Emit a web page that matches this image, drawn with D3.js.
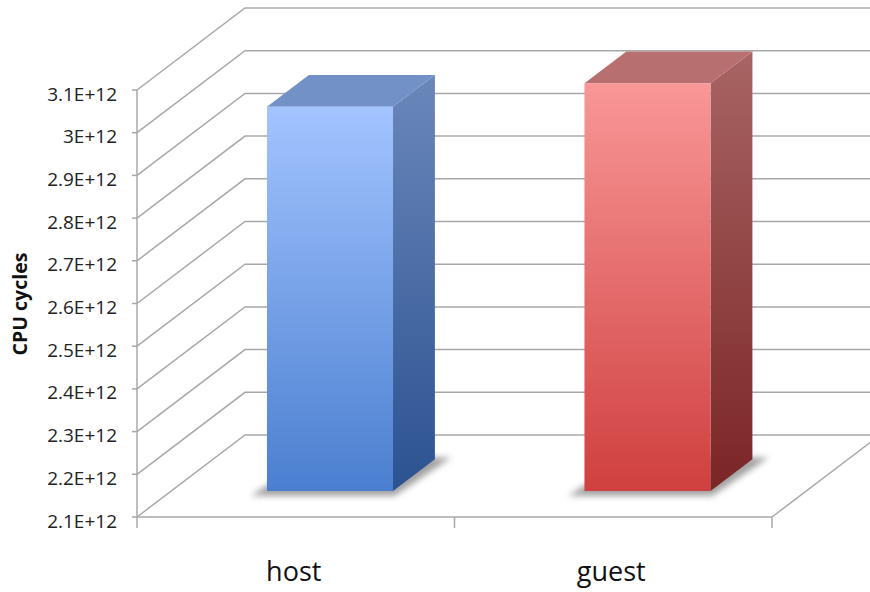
<!DOCTYPE html>
<html><head><meta charset="utf-8">
<script src="https://cdn.jsdelivr.net/npm/d3@7"></script>
<style>body{margin:0;background:#fff}svg{display:block}</style>
</head><body>
<svg id="c" width="870" height="592"></svg>
<script>
// ---- data ----
const categories = ["host", "guest"];
const values = [3.0e12, 3.055e12];
const yTicks = [2.1e12, 2.2e12, 2.3e12, 2.4e12, 2.5e12, 2.6e12, 2.7e12, 2.8e12, 2.9e12, 3.0e12, 3.1e12];
const yTickLabels = ["2.1E+12", "2.2E+12", "2.3E+12", "2.4E+12", "2.5E+12", "2.6E+12", "2.7E+12", "2.8E+12", "2.9E+12", "3E+12", "3.1E+12"];
const yTitle = "CPU cycles";
const barColors = [
  {front: ["#a3c4ff", "#4a7fd0"], side: ["#6a87ba", "#2c5291"], top: "#7291c7"},
  {front: ["#f99797", "#cf403f"], side: ["#a86464", "#7b2525"], top: "#b86f70"}
];

// ---- layout ----
const svg = d3.select("#c");
const X0 = 137, X1 = 772, YB = 517, YT = 90;
const DX = 108, DY = -82;        // full depth offset
const D0 = 0.317, D1 = 0.705;    // bar depth span
const barFrac = 0.397;
const gridColor = "#a8a8a8";

const y = d3.scaleLinear().domain([2.1e12, 3.1e12]).range([YB, YT]);
const x = d3.scaleBand().domain(categories).range([X0, X1]).padding(0);
const P = (xf, v, d) => [xf + d * DX, y(v) + d * DY];
const pts = a => a.map(p => p.join(",")).join(" ");

const defs = svg.append("defs");
barColors.forEach((c, i) => {
  const gf = defs.append("linearGradient").attr("id", "gf" + i).attr("x1", 0).attr("y1", 0).attr("x2", 0).attr("y2", 1);
  gf.append("stop").attr("offset", 0).attr("stop-color", c.front[0]);
  gf.append("stop").attr("offset", 1).attr("stop-color", c.front[1]);
  const gs = defs.append("linearGradient").attr("id", "gs" + i).attr("x1", 0).attr("y1", 0).attr("x2", 0).attr("y2", 1);
  gs.append("stop").attr("offset", 0).attr("stop-color", c.side[0]);
  gs.append("stop").attr("offset", 1).attr("stop-color", c.side[1]);
});
defs.append("filter").attr("id", "blur").attr("x", "-50%").attr("y", "-50%").attr("width", "200%").attr("height", "200%")
  .append("feGaussianBlur").attr("stdDeviation", 3);

// ---- walls / grid ----
const grid = svg.append("g").attr("stroke", gridColor).attr("stroke-width", 1.5).attr("fill", "none");
yTicks.forEach(t => {
  const a = P(X0, t, 0), b = P(X0, t, 1), c = P(X1 + 20, t, 1);
  grid.append("polyline").attr("points", pts([a, b, c]));
});
// floor
grid.append("line").attr("x1", X0).attr("y1", y(2.1e12)).attr("x2", X1).attr("y2", y(2.1e12));
{
  const a = P(X1, 2.1e12, 0), b = P(X1, 2.1e12, 1);
  grid.append("line").attr("x1", a[0]).attr("y1", a[1]).attr("x2", b[0]).attr("y2", b[1]);
}

// ---- bars ----
const bars = svg.append("g");
categories.forEach((cat, i) => {
  const bw = x.bandwidth() * barFrac;
  const xl = x(cat) + (x.bandwidth() - bw) / 2, xr = xl + bw;
  const v = values[i], b = 2.1e12;
  const g = bars.append("g");
  // shadow
  const s0 = P(xl - 14, b, D0 - 0.02), s1 = P(xr + 4, b, D0 - 0.02), s2 = P(xr + 14, b, D1 + 0.02), s3 = P(xl, b, D1 + 0.02);
  g.append("polygon").attr("points", pts([[s0[0], s0[1] + 3], [s1[0], s1[1] + 3], s2, s3]))
    .attr("fill", "#555").attr("opacity", 0.55).attr("filter", "url(#blur)");
  // side
  g.append("polygon").attr("points", pts([P(xr, v, D0), P(xr, v, D1), P(xr, b, D1), P(xr, b, D0)]))
    .attr("fill", `url(#gs${i})`);
  // top
  g.append("polygon").attr("points", pts([P(xl, v, D0), P(xl, v, D1), P(xr, v, D1), P(xr, v, D0)]))
    .attr("fill", barColors[i].top);
  // front
  const f0 = P(xl, v, D0), f1 = P(xr, b, D0);
  g.append("rect").attr("x", f0[0]).attr("y", f0[1]).attr("width", f1[0] - f0[0]).attr("height", f1[1] - f0[1])
    .attr("fill", `url(#gf${i})`);
});

// ---- front axes ----
const ax = svg.append("g").attr("stroke", gridColor).attr("stroke-width", 1.5);
ax.append("line").attr("x1", X0).attr("y1", YT).attr("x2", X0).attr("y2", YB + 11);
yTicks.forEach(t => ax.append("line").attr("x1", X0 - 5).attr("x2", X0).attr("y1", y(t)).attr("y2", y(t)));
[X0 + x.bandwidth(), X1].forEach(xx => ax.append("line").attr("x1", xx).attr("x2", xx).attr("y1", YB).attr("y2", YB + 11));

svg.append("g").attr("font-family", "'Open Sans', sans-serif").attr("font-size", 19).attr("fill", "#222")
  .attr("text-anchor", "end")
  .selectAll("text").data(yTicks).join("text")
  .attr("x", 117).attr("y", (d) => y(d) + 10.5).text((d, i) => yTickLabels[i]);

svg.append("g").attr("font-family", "'Open Sans', sans-serif").attr("font-size", 27).attr("fill", "#111")
  .attr("text-anchor", "middle")
  .selectAll("text").data(categories).join("text")
  .attr("x", d => x(d) + x.bandwidth() / 2 - 2).attr("y", 581).text(d => d);

svg.append("text").attr("font-family", "'Open Sans', sans-serif").attr("font-size", 19.5).attr("font-weight", "bold")
  .attr("fill", "#111").attr("text-anchor", "middle")
  .attr("transform", "translate(27,304) rotate(-90)").text(yTitle);
</script>
</body></html>
